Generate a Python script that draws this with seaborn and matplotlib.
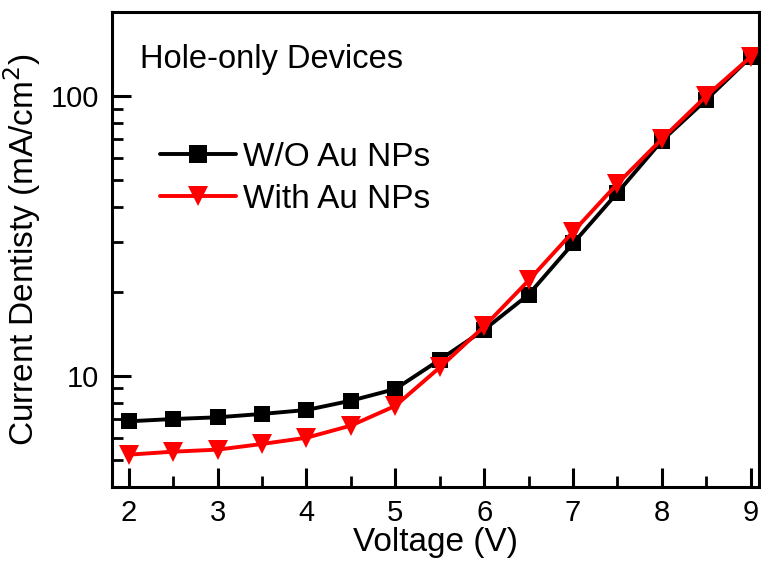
import matplotlib
matplotlib.use('Agg')
import matplotlib.pyplot as plt
from matplotlib.ticker import LogLocator, NullFormatter, MultipleLocator
import seaborn as sns
import pandas as pd

voltage = [2, 2.5, 3, 3.5, 4, 4.5, 5, 5.5, 6, 6.5, 7, 7.5, 8, 8.5, 9]
wo_au = [6.87, 7.0, 7.1, 7.3, 7.54, 8.14, 8.96, 11.4, 14.6, 19.5, 29.7, 45.1, 69.2, 97.0, 138]
with_au = [5.22, 5.35, 5.44, 5.7, 6.0, 6.63, 7.8, 10.7, 15.0, 21.9, 32.7, 48.6, 70.2, 100, 138]
labels = ['W/O Au NPs', 'With Au NPs']

sns.set_style('ticks')
plt.rcParams['font.family'] = ['Liberation Sans', 'DejaVu Sans']
plt.rcParams['text.color'] = 'black'
plt.rcParams['axes.labelcolor'] = 'black'
plt.rcParams['xtick.color'] = 'black'
plt.rcParams['ytick.color'] = 'black'

df = pd.DataFrame({
  'Voltage': voltage * 2,
  'J': wo_au + with_au,
  'Sample': [labels[0]] * len(voltage) + [labels[1]] * len(voltage),
})

fig = plt.figure(figsize=(7.61, 5.63), dpi=100)
ax = fig.add_axes([0.147, 0.135, 0.850, 0.844])

sns.lineplot(data=df, x='Voltage', y='J', hue='Sample', style='Sample',
             palette=['black', 'red'], markers=['s', 'v'], dashes=False,
             markersize=12, linewidth=2.8, markeredgewidth=0, ax=ax)
ax.lines[1].set_markersize(14)

ax.set_yscale('log')
ax.set_xlim(1.81, 9.09)
ax.set_ylim(4, 200)
ax.xaxis.set_major_locator(MultipleLocator(1))
ax.xaxis.set_minor_locator(MultipleLocator(0.5))
ax.yaxis.set_minor_locator(LogLocator(base=10, subs=range(2, 10)))
ax.yaxis.set_minor_formatter(NullFormatter())
ax.set_yticks([10, 100])
ax.set_yticklabels(['10', '100'])

for s in ax.spines.values():
  s.set_linewidth(2.2)
  s.set_color('black')
ax.tick_params(which='major', direction='in', length=14, width=2.2, labelsize=21,
               top=False, right=False, pad=9)
ax.tick_params(which='minor', direction='in', length=8, width=2.0, top=False, right=False)

ax.set_xlabel('Voltage (V)', fontsize=24, labelpad=0)
ax.set_ylabel('Current Dentisty (mA/cm$^2$)', fontsize=24, labelpad=6)

ax.text(0.043, 0.90, 'Hole-only Devices', transform=ax.transAxes,
        fontsize=23.5, va='center', ha='left')

leg = ax.legend(loc='upper left', bbox_to_anchor=(0.074, 0.726), frameon=False,
                fontsize=24, handlelength=2.3, handletextpad=0.2,
                labelspacing=0.32, borderpad=0, borderaxespad=0)
for h, ms in zip(leg.legend_handles, [13, 15]):
  h.set_markersize(ms)
  h.set_linewidth(2.8)

fig.savefig('out.png', dpi=100)
